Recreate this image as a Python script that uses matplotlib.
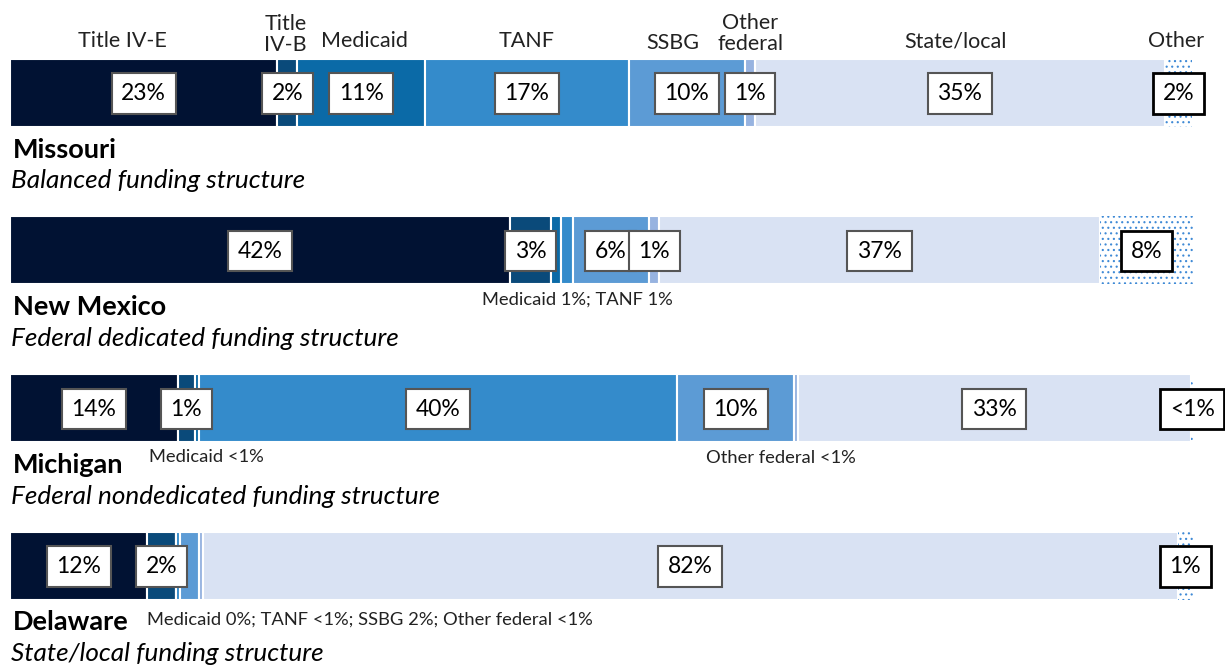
import matplotlib.pyplot as plt

plt.rcParams['font.family'] = ['Lato', 'DejaVu Sans']
plt.rcParams['hatch.linewidth'] = 0.8

# funding sources, in stacking order
sources = ['Title IV-E', 'Title IV-B', 'Medicaid', 'TANF', 'SSBG',
           'Other federal', 'State/local', 'Other']
colors = ['#011233', '#0a4a7a', '#0b6aa7', '#348bcb', '#5c9bd5',
          '#97b3e0', '#d9e2f3', 'white']

states = ['Missouri', 'New Mexico', 'Michigan', 'Delaware']
structures = ['Balanced funding structure',
              'Federal dedicated funding structure',
              'Federal nondedicated funding structure',
              'State/local funding structure']

# share of child welfare spending by source (%)
missouri = [22.6, 1.7, 10.8, 17.2, 9.8, 0.9, 34.6, 2.3]
new_mexico = [42.3, 3.4, 0.9, 1.0, 6.4, 0.9, 37.2, 7.9]
michigan = [14.2, 1.4, 0.4, 40.4, 9.9, 0.3, 33.2, 0.3]
delaware = [11.6, 2.4, 0.0, 0.4, 1.6, 0.3, 82.4, 1.3]
shares = [missouri, new_mexico, michigan, delaware]

# which segments get a boxed label inside the bar
boxed = [[1, 1, 1, 1, 1, 1, 1, 1],
         [1, 1, 0, 0, 1, 1, 1, 1],
         [1, 1, 0, 1, 1, 0, 1, 1],
         [1, 1, 0, 0, 0, 0, 1, 1]]

# small notes under the bars for the unlabeled slivers:
# (source indices, x, y in pixels, ha)
notes = [[],
         [([2, 3], 48.0, 300, 'center')],
         [([2], 16.6, 457, 'center'), ([5], 65.2, 458, 'center')],
         [([2, 3, 4, 5], 11.6, 620, 'left')]]

# column headers over the first bar
header_text = ['Title IV-E', 'Title\nIV-B', 'Medicaid', 'TANF', 'SSBG',
               'Other\nfederal', 'State/local', 'Other']
header_x = [9.5, 23.3, 30.0, 43.7, 56.0, 62.6, 79.9, 98.6]
header_y = [47, 51, 47, 47, 49, 50, 47, 47]


def pct(v):
    if v == 0:
        return '0%'
    if v < 0.5:
        return '<1%'
    return f'{round(v)}%'


fig = plt.figure(figsize=(12.25, 6.65), dpi=100)
ax = fig.add_axes([10 / 1225, 0, 1183 / 1225, 1])
ax.set_xlim(0, 100)
ax.set_ylim(665, 0)
ax.axis('off')

bar_y = [92.5, 250, 408, 565.5]
bar_h = 68

for i, vals in enumerate(shares):
    left = 0
    for j, v in enumerate(vals):
        if j == len(vals) - 1:
            ax.barh(bar_y[i], v, left=left, height=bar_h, color='white',
                    edgecolor='#3f8ad6', linewidth=0, hatch='...')
        else:
            ax.barh(bar_y[i], v, left=left, height=bar_h, color=colors[j],
                    edgecolor='white', linewidth=1.5)
        if boxed[i][j]:
            last = j == len(vals) - 1
            ax.text(left + v / 2, bar_y[i] + 1, pct(v), ha='center', va='center',
                    fontsize=16.5, color='black', zorder=5,
                    bbox=dict(boxstyle='square,pad=0.42', fc='white',
                              ec='black' if last else '#555555',
                              lw=2 if last else 1.5))
        left += v

    for idx, x, y, ha in notes[i]:
        txt = '; '.join(f'{sources[k]} {pct(vals[k])}' for k in idx)
        ax.text(x, y, txt, ha=ha, va='center', fontsize=13.2, color='#222222')

    fig.text(13 / 1225, 1 - (bar_y[i] + 57) / 665, states[i], ha='left',
             va='center', fontsize=19.5, fontweight='bold', color='black')
    fig.text(11 / 1225, 1 - (bar_y[i] + 88) / 665, structures[i], ha='left',
             va='center', fontsize=18.8, style='italic', color='black')

for t, x, y in zip(header_text, header_x, header_y):
    ax.text(x, y, t, ha='center', va='baseline', fontsize=15.5,
            color='#222222', linespacing=1.05)

fig.savefig('out.png', dpi=100)
